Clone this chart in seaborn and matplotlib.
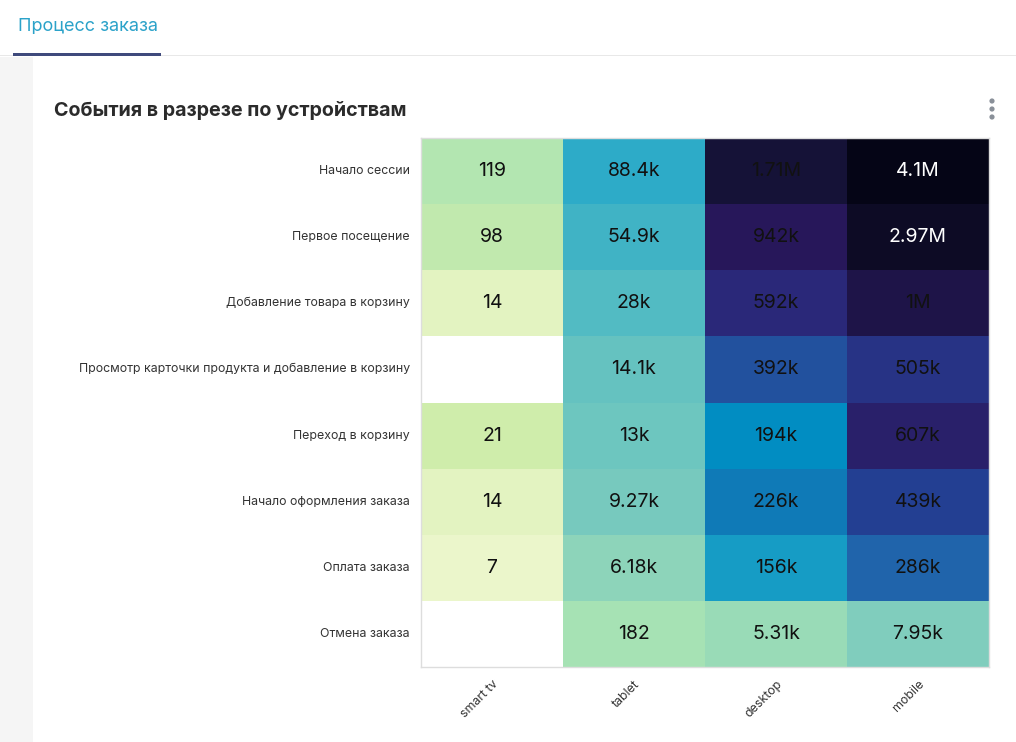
import numpy as np
import pandas as pd
import matplotlib
matplotlib.use("Agg")
import matplotlib.pyplot as plt
import matplotlib.patches as mpatches
from matplotlib.colors import LinearSegmentedColormap
import seaborn as sns

# ---- data ----
events = [
    "Начало сессии",
    "Первое посещение",
    "Добавление товара в корзину",
    "Просмотр карточки продукта и добавление в корзину",
    "Переход в корзину",
    "Начало оформления заказа",
    "Оплата заказа",
    "Отмена заказа",
]
devices = ["smart tv", "tablet", "desktop", "mobile"]
smart_tv = [119, 98, 14, np.nan, 21, 14, 7, np.nan]
tablet = [88400, 54900, 28000, 14100, 13000, 9270, 6180, 182]
desktop = [1710000, 942000, 592000, 392000, 194000, 226000, 156000, 5310]
mobile = [4100000, 2970000, 1000000, 505000, 607000, 439000, 286000, 7950]

df = pd.DataFrame({"smart tv": smart_tv, "tablet": tablet,
                   "desktop": desktop, "mobile": mobile}, index=events)


def fmt(v):
    if np.isnan(v):
        return ""
    if v >= 1e6:
        return f"{v/1e6:.3g}M"
    if v >= 1e3:
        return f"{v/1e3:.3g}k"
    return f"{int(v)}"


labels = df.apply(lambda col: col.map(fmt))

# colour by rank (quantile scale)
flat = df.stack()
ranks = flat.rank(method="min") - 1
rank_df = ranks.unstack().reindex(index=events, columns=devices)
n = len(flat) - 1
norm_rank = rank_df / n

anchors = [
    (0 / 29, "#ebf6cb"), (3 / 29, "#cfedab"), (6 / 29, "#a5e2b4"),
    (9 / 29, "#80cdbd"), (12 / 29, "#64c2c0"), (15 / 29, "#2dabc8"),
    (17 / 29, "#008ec3"), (19 / 29, "#2064ab"), (21 / 29, "#233f92"),
    (23 / 29, "#2a297a"), (25 / 29, "#27175a"), (27 / 29, "#161238"),
    (29 / 29, "#050516"),
]
cmap = LinearSegmentedColormap.from_list("quant", anchors)

# ---- figure ----
sns.set_style("white")
plt.rcParams["font.family"] = ["Inter", "DejaVu Sans"]

W, H = 1016, 742
fig = plt.figure(figsize=(W / 100, H / 100), dpi=100)
fig.patch.set_facecolor("white")


def fx(x):
    return x / W


def fy(y):
    return 1 - y / H


# page chrome
fig.patches.append(mpatches.Rectangle((0, 0), fx(33), fy(57), transform=fig.transFigure,
                                      facecolor="#f5f5f5", edgecolor="none", zorder=0))
fig.patches.append(mpatches.Rectangle((0, fy(56)), 1, 1 / H, transform=fig.transFigure,
                                      facecolor="#e8e8e8", edgecolor="none", zorder=1))
fig.patches.append(mpatches.Rectangle((fx(13), fy(56)), fx(148), 3 / H, transform=fig.transFigure,
                                      facecolor="#3f4a7c", edgecolor="none", zorder=2))
fig.text(fx(18), fy(26), "Процесс заказа", fontsize=13, color="#2ba2c9",
         va="center", ha="left")
fig.text(fx(54), fy(111), "События в разрезе по устройствам", fontsize=14.2,
         fontweight="bold", color="#2b2b2b", va="center", ha="left")
for yy in (101, 109, 117):
    fig.patches.append(mpatches.Circle((992 / 100, (H - yy) / 100), 0.026,
                                       transform=fig.dpi_scale_trans,
                                       facecolor="#8a9099", edgecolor="none"))

ax = fig.add_axes([fx(421), fy(667), fx(989) - fx(421), fy(138) - fy(667)])
sns.heatmap(norm_rank, ax=ax, cmap=cmap, vmin=0, vmax=1, cbar=False,
            annot=labels.values, fmt="", annot_kws={"fontsize": 14},
            linewidths=0)

for t, v in zip(ax.texts, df.values.flatten()):
    t.set_color("white" if (not np.isnan(v) and v > 2e6) else "#111111")

for s in ax.spines.values():
    s.set_visible(True)
    s.set_color("#dddddd")
    s.set_linewidth(1)

ax.set_xlabel("")
ax.set_ylabel("")
ax.tick_params(axis="both", length=5, color="#cccccc", width=1, labelsize=8.9,
               labelcolor="#333333", pad=3)
ax.set_xticklabels(devices, rotation=45, ha="right", rotation_mode="anchor")
ax.set_yticklabels(events, rotation=0)

fig.savefig("out.png", dpi=100)
